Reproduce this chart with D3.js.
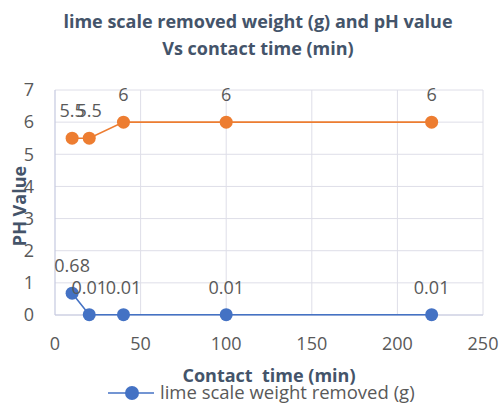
<!DOCTYPE html>
<html>
<head>
<meta charset="utf-8">
<script src="https://cdn.jsdelivr.net/npm/d3@7"></script>
<style>
  body { margin: 0; background: #fff; }
  text { font-family: "Open Sans", Lato, sans-serif; }
</style>
</head>
<body>
<svg id="chart" width="500" height="403"></svg>
<script>
const times = [10, 20, 40, 100, 220];
const phValues = [5.5, 5.5, 6, 6, 6];
const weightRemoved = [0.68, 0.01, 0.01, 0.01, 0.01];
const xTicks = [0, 50, 100, 150, 200, 250];
const yTicks = [0, 1, 2, 3, 4, 5, 6, 7];

const svg = d3.select("#chart"),
    plotLeft = 55, plotRight = 483, plotTop = 90, plotBottom = 315;

const x = d3.scaleLinear().domain([0, 250]).range([plotLeft, plotRight]);
const y = d3.scaleLinear().domain([0, 7]).range([plotBottom, plotTop]);

const textColor = "#595959";
const titleColor = "#44546A";
const orange = "#ED7D31", blue = "#4472C4";

// Title
svg.append("text")
    .attr("x", 258).attr("y", 28)
    .attr("text-anchor", "middle")
    .style("font-size", "18px").style("font-weight", "bold")
    .attr("fill", titleColor)
    .text("lime scale removed weight (g) and pH value");
svg.append("text")
    .attr("x", 258).attr("y", 55)
    .attr("text-anchor", "middle")
    .style("font-size", "18px").style("font-weight", "bold")
    .attr("fill", titleColor)
    .text("Vs contact time (min)");

// Grid
svg.append("g").selectAll("line").data(yTicks).enter().append("line")
    .attr("x1", plotLeft).attr("x2", plotRight)
    .attr("y1", d => y(d)).attr("y2", d => y(d))
    .attr("stroke", "#dedee8").attr("stroke-width", 1);
svg.append("g").selectAll("line").data(xTicks.slice(1)).enter().append("line")
    .attr("x1", d => x(d)).attr("x2", d => x(d))
    .attr("y1", plotTop).attr("y2", plotBottom)
    .attr("stroke", "#dedee8").attr("stroke-width", 1);

// Axes lines
svg.append("line")
    .attr("x1", plotLeft).attr("x2", plotLeft).attr("y1", plotTop).attr("y2", plotBottom)
    .attr("stroke", "#c5c9e0").attr("stroke-width", 1.2);
svg.append("line")
    .attr("x1", plotLeft).attr("x2", plotRight).attr("y1", plotBottom).attr("y2", plotBottom)
    .attr("stroke", "#c5c9e0").attr("stroke-width", 1.2);

// Tick labels
svg.append("g").selectAll("text").data(yTicks).enter().append("text")
    .attr("x", 34).attr("y", d => y(d)).attr("dy", "0.35em")
    .attr("text-anchor", "end")
    .style("font-size", "18px").attr("fill", textColor)
    .text(d => d);
svg.append("g").selectAll("text").data(xTicks).enter().append("text")
    .attr("x", d => x(d)).attr("y", 350)
    .attr("text-anchor", "middle")
    .style("font-size", "18px").attr("fill", textColor)
    .text(d => d);

// Axis titles
svg.append("text")
    .attr("transform", "translate(26,206) rotate(-90)")
    .attr("text-anchor", "middle")
    .style("font-size", "18px").style("font-weight", "bold")
    .attr("fill", titleColor)
    .text("PH Value");
svg.append("text")
    .attr("x", 269).attr("y", 382)
    .attr("text-anchor", "middle")
    .style("font-size", "18px").style("font-weight", "bold")
    .style("white-space", "pre")
    .attr("fill", titleColor)
    .text("Contact  time (min)");

// Series
const series = [
    { values: phValues, color: orange },
    { values: weightRemoved, color: blue }
];

const line = d3.line().x(d => x(d[0])).y(d => y(d[1]));

series.forEach(s => {
    const pts = times.map((t, i) => [t, s.values[i]]);
    svg.append("path")
        .datum(pts)
        .attr("d", line)
        .attr("fill", "none")
        .attr("stroke", s.color)
        .attr("stroke-width", 1.6);
    svg.append("g").selectAll("circle").data(pts).enter().append("circle")
        .attr("cx", d => x(d[0])).attr("cy", d => y(d[1]))
        .attr("r", 6.5)
        .attr("fill", s.color);
    svg.append("g").selectAll("text").data(pts).enter().append("text")
        .attr("x", d => x(d[0])).attr("y", d => y(d[1]) - 21)
        .attr("text-anchor", "middle")
        .style("font-size", "18px").attr("fill", textColor)
        .text(d => d[1]);
});

// Legend
svg.append("line")
    .attr("x1", 108).attr("x2", 154).attr("y1", 393).attr("y2", 393)
    .attr("stroke", blue).attr("stroke-width", 1.6);
svg.append("circle")
    .attr("cx", 132).attr("cy", 393).attr("r", 7).attr("fill", blue);
svg.append("text")
    .attr("x", 160).attr("y", 393).attr("dy", "0.35em")
    .style("font-size", "18.5px").attr("fill", textColor)
    .text("lime scale weight removed (g)");
</script>
</body>
</html>
